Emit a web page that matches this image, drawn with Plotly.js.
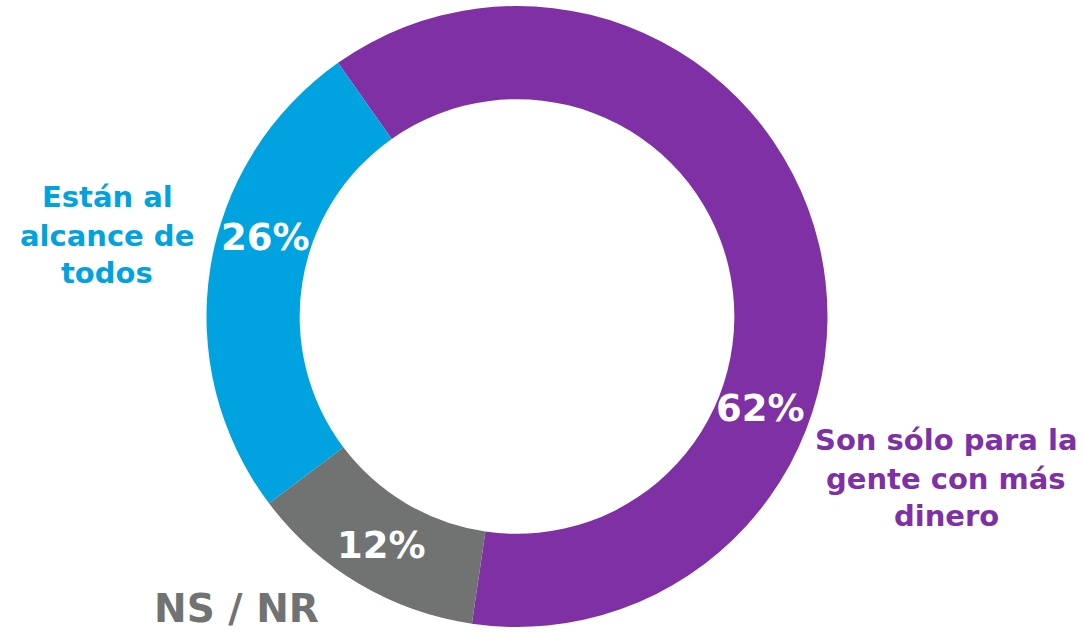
<!DOCTYPE html>
<html>
<head>
<meta charset="utf-8">
<script src="https://cdn.plot.ly/plotly-3.0.1.min.js"></script>
<style>html,body{margin:0;padding:0;background:#fff;}#chart{width:1084px;height:633px;}</style>
</head>
<body>
<div id="chart"></div>
<script>
// Data (slice shares; labels as printed)
const categories = ["Son sólo para la gente con más dinero", "NS / NR", "Están al alcance de todos"];
const values = [62.1, 12.4, 25.5];
const percentLabels = ["62%", "12%", "26%"];
const colors = ["#7F30A5", "#717372", "#00A3E0"];
const outsideLines = [
  ["Son sólo para la", "gente con más", "dinero"],
  ["NS / NR"],
  ["Están al", "alcance de", "todos"]
];

const W = 1084, H = 633;
const FONT = "DejaVu Sans";
function px(x){ return x / W; }
function py(y){ return 1 - y / H; }

// label placement (pixel positions of text centres; NS/NR sits on the bottom edge)
const pctPos = [[760, 408], [381, 545], [265, 237]];
const outPos = [
  {x: 946, ys: [440, 479, 516], size: 29, anchor: "middle"},
  {x: 236, ys: [H], size: 39, anchor: "bottom"},
  {x: 107, ys: [197, 236, 273], size: 29, anchor: "middle"}
];

const annotations = [];
values.forEach((v, i) => {
  annotations.push({
    xref: "paper", yref: "paper",
    x: px(pctPos[i][0]), y: py(pctPos[i][1]),
    xanchor: "center", yanchor: "middle",
    text: percentLabels[i], showarrow: false,
    font: {family: FONT, size: 37, color: "#ffffff", weight: 700}
  });
  outsideLines[i].forEach((line, j) => {
    annotations.push({
      xref: "paper", yref: "paper",
      x: px(outPos[i].x), y: py(outPos[i].ys[j]),
      xanchor: "center", yanchor: outPos[i].anchor,
      text: line, showarrow: false,
      font: {family: FONT, size: outPos[i].size, color: colors[i], weight: 700}
    });
  });
});

const cx = 517, cy = 316.5, R = 310.5;
const trace = {
  type: "pie",
  labels: categories,
  values: values,
  hole: 0.70,
  sort: false,
  direction: "clockwise",
  rotation: -35.2,
  marker: {colors: colors, line: {width: 0}},
  textinfo: "none",
  hoverinfo: "label+percent",
  showlegend: false,
  domain: {x: [(cx - R) / W, (cx + R) / W], y: [1 - (cy + R) / H, 1 - (cy - R) / H]}
};

const layout = {
  width: W, height: H,
  margin: {l: 0, r: 0, t: 0, b: 0},
  paper_bgcolor: "#ffffff",
  showlegend: false,
  annotations: annotations
};

Plotly.newPlot("chart", [trace], layout, {displayModeBar: false, staticPlot: true});
</script>
</body>
</html>
